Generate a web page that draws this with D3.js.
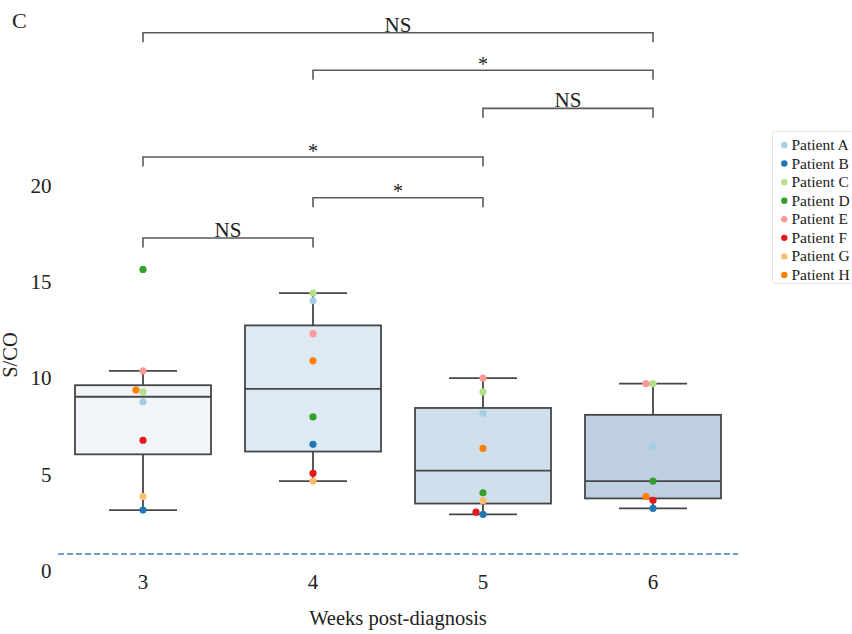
<!DOCTYPE html>
<html>
<head>
<meta charset="utf-8">
<script src="https://cdn.jsdelivr.net/npm/d3@7"></script>
<style>
  html, body { margin: 0; padding: 0; background: #fff; }
  svg { display: block; font-family: "Liberation Serif", "DejaVu Serif", serif; }
</style>
</head>
<body>
<svg id="chart" width="852" height="634"></svg>
<script>
// ---------------- data ----------------
const weeks = ["3", "4", "5", "6"];
const patients = ["Patient A", "Patient B", "Patient C", "Patient D", "Patient E", "Patient F", "Patient G", "Patient H"];
const patientColors = ["#a6cee3", "#1f78b4", "#b2df8a", "#33a02c", "#fb9a99", "#e31a1c", "#fdbf6f", "#ff7f00"];
// S/CO values per patient, by week (3,4,5,6)
const patientA = [8.76, 14.01, 8.16, 6.46];
const patientB = [3.13, 6.55, 2.91, 3.22];
const patientC = [9.28, 14.41, 9.27, 9.70];
const patientD = [15.64, 7.97, 4.03, 4.64];
const patientE = [10.37, 12.30, 9.99, 9.70];
const patientF = [6.76, 5.04, 3.02, 3.64];
const patientG = [3.83, 4.64, 3.62, null];
const patientH = [9.37, 10.89, 6.34, 3.83];
const boxFills = ["#f1f5fa", "#deeaf3", "#cfe0ec", "#bdcfe1"];
const yTicks = [0, 5, 10, 15, 20];
const cutoff = 0.85;
// significance brackets
const bracketFrom = ["3", "4", "5", "3", "4", "3"];
const bracketTo = ["6", "6", "6", "5", "5", "4"];
const bracketLabels = ["NS", "*", "NS", "*", "*", "NS"];
const bracketLevels = [27.94, 25.99, 24.01, 21.48, 19.36, 17.27];

const series = [patientA, patientB, patientC, patientD, patientE, patientF, patientG, patientH];

// ---------------- scales ----------------
const svg = d3.select("#chart");
const x = d3.scaleBand().domain(weeks).range([58, 738]).paddingInner(0).paddingOuter(0);
const y = d3.scaleLinear().domain([0, 20]).range([570.3, 185.5]);
const xc = d => x(d) + x.bandwidth() / 2;
const color = d3.scaleOrdinal().domain(patients).range(patientColors);

const boxW = x.bandwidth() * 0.8;
const capW = boxW / 2;
const strokeCol = "#464646";

// ---------------- cutoff line ----------------
svg.append("line")
  .attr("x1", x.range()[0]).attr("x2", x.range()[1])
  .attr("y1", y(cutoff)).attr("y2", y(cutoff))
  .attr("stroke", "#3f82c0").attr("stroke-width", 1.6)
  .attr("stroke-dasharray", "6,3");

// ---------------- boxes ----------------
weeks.forEach((w, wi) => {
  const vals = series.map(s => s[wi]).filter(v => v != null).sort(d3.ascending);
  const q1 = d3.quantile(vals, 0.25), med = d3.quantile(vals, 0.5), q3 = d3.quantile(vals, 0.75);
  const iqr = q3 - q1;
  const lo = d3.min(vals.filter(v => v >= q1 - 1.5 * iqr));
  const hi = d3.max(vals.filter(v => v <= q3 + 1.5 * iqr));
  const cx = xc(w);
  const g = svg.append("g");
  g.append("line").attr("x1", cx).attr("x2", cx).attr("y1", y(q3)).attr("y2", y(hi))
    .attr("stroke", strokeCol).attr("stroke-width", 1.8);
  g.append("line").attr("x1", cx).attr("x2", cx).attr("y1", y(q1)).attr("y2", y(lo))
    .attr("stroke", strokeCol).attr("stroke-width", 1.8);
  g.append("line").attr("x1", cx - capW / 2).attr("x2", cx + capW / 2).attr("y1", y(hi)).attr("y2", y(hi))
    .attr("stroke", strokeCol).attr("stroke-width", 1.8);
  g.append("line").attr("x1", cx - capW / 2).attr("x2", cx + capW / 2).attr("y1", y(lo)).attr("y2", y(lo))
    .attr("stroke", strokeCol).attr("stroke-width", 1.8);
  g.append("rect").attr("x", cx - boxW / 2).attr("width", boxW)
    .attr("y", y(q3)).attr("height", y(q1) - y(q3))
    .attr("fill", boxFills[wi]).attr("stroke", strokeCol).attr("stroke-width", 1.8);
  g.append("line").attr("x1", cx - boxW / 2).attr("x2", cx + boxW / 2).attr("y1", y(med)).attr("y2", y(med))
    .attr("stroke", strokeCol).attr("stroke-width", 1.8);
});

// ---------------- points (simple swarm dodge) ----------------
const r = 3.6;
const diam = 7;
weeks.forEach((w, wi) => {
  const pts = series.map((s, pi) => ({ p: patients[pi], v: s[wi], pi }))
    .filter(d => d.v != null);
  const order = pts.slice().sort((a, b) => d3.ascending(a.v, b.v) || d3.ascending(a.pi, b.pi));
  const placed = [];
  order.forEach(d => {
    const py = y(d.v);
    const cands = [0, -diam, diam, -2 * diam, 2 * diam];
    for (const off of cands) {
      const ok = placed.every(q => Math.hypot(q.off - off, q.py - py) >= diam);
      if (ok) { d.off = off; d.py = py; break; }
    }
    placed.push(d);
  });
  const drawOrder = order.slice().reverse();
  svg.append("g").selectAll("circle").data(drawOrder).join("circle")
    .attr("cx", d => xc(w) + d.off)
    .attr("cy", d => d.py)
    .attr("r", r)
    .attr("fill", d => color(d.p));
});

// ---------------- axes text ----------------
const tickFont = 21;
svg.append("g").selectAll("text").data(yTicks).join("text")
  .attr("x", 51.5).attr("y", d => y(d) + 7.5)
  .attr("text-anchor", "end").attr("font-size", tickFont).attr("fill", "#222")
  .text(d => d);
svg.append("g").selectAll("text").data(weeks).join("text")
  .attr("x", d => xc(d)).attr("y", 589.3)
  .attr("text-anchor", "middle").attr("font-size", tickFont).attr("fill", "#222")
  .text(d => d);
svg.append("text").attr("x", 398).attr("y", 625)
  .attr("text-anchor", "middle").attr("font-size", 20.5).attr("fill", "#222")
  .text("Weeks post-diagnosis");
svg.append("text").attr("transform", "translate(17,355) rotate(-90)")
  .attr("text-anchor", "middle").attr("font-size", 20.5).attr("fill", "#222")
  .text("S/CO");
svg.append("text").attr("x", 12).attr("y", 28.3)
  .attr("font-size", 22).attr("fill", "#222").text("C");

// ---------------- brackets ----------------
const tickLen = 9.5;
bracketLabels.forEach((lab, i) => {
  const x1 = xc(bracketFrom[i]), x2 = xc(bracketTo[i]), by = y(bracketLevels[i]);
  svg.append("path")
    .attr("d", `M${x1},${by + tickLen}V${by}H${x2}V${by + tickLen}`)
    .attr("fill", "none").attr("stroke", "#5a5a5a").attr("stroke-width", 1.6);
  svg.append("text").attr("x", (x1 + x2) / 2).attr("y", by - (lab === "*" ? -0.5 : 1))
    .attr("text-anchor", "middle").attr("font-size", lab === "*" ? 20 : 21).attr("fill", "#222")
    .text(lab);
});

// ---------------- legend ----------------
const lg = svg.append("g");
lg.append("rect").attr("x", 772.5).attr("y", 131.5).attr("width", 100).attr("height", 152)
  .attr("rx", 3).attr("fill", "#fff").attr("stroke", "#e6e6e6").attr("stroke-width", 1);
patients.forEach((p, i) => {
  const cy = 145 + i * 18.57;
  lg.append("circle").attr("cx", 784.3).attr("cy", cy).attr("r", 3.2).attr("fill", color(p));
  lg.append("text").attr("x", 791.5).attr("y", cy + 5).attr("font-size", 15.5).attr("fill", "#222").text(p);
});
</script>
</body>
</html>
